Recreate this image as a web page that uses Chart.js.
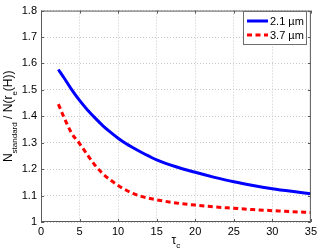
<!DOCTYPE html>
<html>
<head>
<meta charset="utf-8">
<script src="https://cdn.jsdelivr.net/npm/chart.js@4"></script>
<style>
  html, body { margin: 0; padding: 0; background: #fff; }
  #wrap { width: 320px; height: 251px; }
</style>
</head>
<body>
<div id="wrap"><canvas id="myChart" width="320" height="251"></canvas></div>
<script>
// values
const tau = [2.25, 3, 4, 5, 6, 7, 8, 9, 10, 11, 12, 13, 14, 15, 17.5, 20, 22.5, 25, 27.5, 30, 32.5, 35];
const ratio21 = [1.577, 1.545, 1.5, 1.46, 1.425, 1.394, 1.365, 1.34, 1.317, 1.297, 1.28, 1.264, 1.249, 1.235, 1.209, 1.188, 1.169, 1.152, 1.138, 1.126, 1.116, 1.107];
const ratio37 = [1.446, 1.395, 1.335, 1.297, 1.255, 1.215, 1.183, 1.159, 1.138, 1.121, 1.107, 1.097, 1.09, 1.084, 1.072, 1.064, 1.057, 1.052, 1.047, 1.043, 1.039, 1.036];
const seriesLabels = ["2.1 \u00b5m", "3.7 \u00b5m"];
const xTicks = [0, 5, 10, 15, 20, 25, 30, 35];
const yTicks = [1, 1.1, 1.2, 1.3, 1.4, 1.5, 1.6, 1.7, 1.8];

const FONT = "'Liberation Sans', Arial, sans-serif";

function toPoints(ys) {
  const pts = [];
  for (let i = 0; i < tau.length; i++) {
    pts.push({ x: tau[i], y: ys[i] });
  }
  return pts;
}

// draws a string made of normal and subscript pieces, starting at x
function drawPieces(ctx, pieces, x, y, drop) {
  for (const p of pieces) {
    ctx.font = (p.sub ? "8px " : "12px ") + FONT;
    ctx.fillText(p.t, x, p.sub ? y + drop : y);
    x += ctx.measureText(p.t).width;
  }
}
function piecesWidth(ctx, pieces) {
  let w = 0;
  for (const p of pieces) {
    ctx.font = (p.sub ? "8px " : "12px ") + FONT;
    w += ctx.measureText(p.t).width;
  }
  return w;
}

// box, inward ticks, legend box and the axis titles (MATLAB look)
const matlabLook = {
  id: "matlabLook",
  afterDraw(chart) {
    const ctx = chart.ctx;
    const a = chart.chartArea;
    const xs = chart.scales.x;
    const ys = chart.scales.y;
    ctx.save();

    ctx.strokeStyle = "#5a5a5a";
    ctx.lineWidth = 1;
    ctx.strokeRect(a.left + 0.5, a.top + 0.5, a.right - a.left - 1, a.bottom - a.top - 1);

    ctx.beginPath();
    for (const v of xTicks) {
      const px = Math.round(xs.getPixelForValue(v)) + 0.5;
      ctx.moveTo(px, a.bottom); ctx.lineTo(px, a.bottom - 3);
      ctx.moveTo(px, a.top); ctx.lineTo(px, a.top + 3);
    }
    for (const v of yTicks) {
      const py = Math.round(ys.getPixelForValue(v)) + 0.5;
      ctx.moveTo(a.left, py); ctx.lineTo(a.left + 3, py);
      ctx.moveTo(a.right, py); ctx.lineTo(a.right - 3, py);
    }
    ctx.stroke();

    // legend
    const lx = 243, ly = 11, lw = 64, lh = 34;
    ctx.fillStyle = "#fff";
    ctx.fillRect(lx, ly, lw, lh);
    ctx.strokeStyle = "#6e6e6e";
    ctx.strokeRect(lx + 0.5, ly + 0.5, lw - 1, lh - 1);
    chart.data.datasets.forEach((ds, i) => {
      const yy = ly + 10 + i * 14;
      ctx.strokeStyle = ds.borderColor;
      ctx.lineWidth = ds.borderWidth;
      ctx.setLineDash(ds.borderDash || []);
      ctx.beginPath();
      ctx.moveTo(lx + 4, yy); ctx.lineTo(lx + 25, yy);
      ctx.stroke();
      ctx.setLineDash([]);
      ctx.fillStyle = "#000";
      ctx.font = "11px " + FONT;
      ctx.textBaseline = "middle";
      ctx.fillText(ds.label, lx + 27, yy + 0.5);
    });

    // axis titles
    ctx.fillStyle = "#000";
    ctx.textBaseline = "alphabetic";
    const yTitle = [
      { t: "N" }, { t: "standard", sub: true }, { t: " / N(r" }, { t: "e", sub: true }, { t: "(H))" }
    ];
    ctx.save();
    ctx.translate(12, (a.top + a.bottom) / 2);
    ctx.rotate(-Math.PI / 2);
    drawPieces(ctx, yTitle, -piecesWidth(ctx, yTitle) / 2, 0, 5);
    ctx.restore();

    const xTitle = [{ t: "\u03c4" }, { t: "c", sub: true }];
    drawPieces(ctx, xTitle, (a.left + a.right) / 2 - piecesWidth(ctx, xTitle) / 2, 244, 4);

    ctx.restore();
  }
};

function renderChart() {
  const ctx = document.getElementById("myChart");

  new Chart(ctx, {
    type: "line",
    data: {
      datasets: [
        {
          label: seriesLabels[0],
          data: toPoints(ratio21),
          borderColor: "#0000ff",
          borderWidth: 3,
          pointRadius: 0,
          cubicInterpolationMode: "monotone",
          fill: false,
        },
        {
          label: seriesLabels[1],
          data: toPoints(ratio37),
          borderColor: "#ff0000",
          borderWidth: 3,
          borderDash: [5, 3.5],
          borderCapStyle: "butt",
          pointRadius: 0,
          cubicInterpolationMode: "monotone",
          fill: false,
        },
      ],
    },
    options: {
      responsive: false,
      animation: false,
      layout: { padding: { top: 9, right: 9, left: 0, bottom: 0 } },
      plugins: { legend: { display: false }, tooltip: { enabled: false } },
      scales: {
        x: {
          type: "linear",
          min: 0,
          max: 35,
          afterBuildTicks: (s) => { s.ticks = xTicks.map((v) => ({ value: v })); },
          afterFit: (s) => { s.height = 29; },
          ticks: { color: "#000", font: { family: FONT, size: 11 }, padding: 3 },
          grid: { color: "#c8c8c8", drawTicks: false },
          border: { display: false, dash: [1, 2] },
        },
        y: {
          min: 1,
          max: 1.8,
          afterBuildTicks: (s) => { s.ticks = yTicks.map((v) => ({ value: v })); },
          afterFit: (s) => { s.width = 41; },
          ticks: {
            color: "#000",
            font: { family: FONT, size: 11 },
            padding: 4,
            callback: (v) => String(Number(v.toFixed(1))),
          },
          grid: { color: "#c8c8c8", drawTicks: false },
          border: { display: false, dash: [1, 2] },
        },
      },
    },
    plugins: [matlabLook],
  });
}

renderChart();
</script>
</body>
</html>
